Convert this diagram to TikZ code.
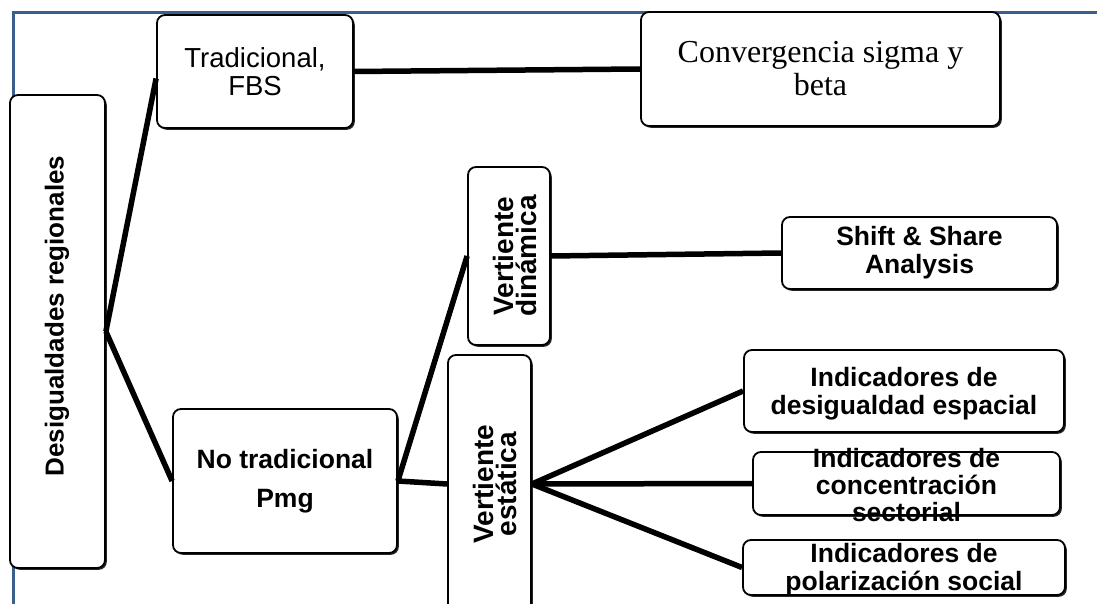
\documentclass[tikz,border=0pt]{standalone}
\usepackage{fontspec}
\setmainfont{Liberation Sans}
\newfontfamily\seriffam{Liberation Serif}
\usetikzlibrary{shadows}
\definecolor{framebl}{RGB}{58,95,142}
\begin{document}
\begin{tikzpicture}[x=1pt,y=-1pt,
  box/.style={draw=black, line width=1.8pt, rounded corners=8pt, fill=white,
    align=center, inner sep=0pt,
    drop shadow={shadow xshift=1.8pt, shadow yshift=-1.8pt, fill=black, opacity=0.85}},
  link/.style={line width=5.5pt, line join=miter},
  bf/.style={font=\bfseries\fontsize{26.5}{28}\selectfont},
  txt/.style={align=center, inner sep=0pt},
  rotbf/.style={font=\bfseries\fontsize{28}{23}\selectfont, rotate=90, align=center, inner sep=0pt},
  plain/.style={font=\fontsize{27.5}{28}\selectfont},
  serifbig/.style={font=\seriffam\fontsize{32}{33}\selectfont}]
\useasboundingbox (0,0) rectangle (1097,604);
\draw[framebl, line width=3pt] (1097,13) -- (13,13) -- (13,604);

\node[box, minimum width=95pt, minimum height=473pt] (desig) at (57.5,331.5) {};
\node[rotbf, font=\bfseries\fontsize{26}{28}\selectfont] (desigt) at (57,316) {Desigualdades regionales};
\node[box, plain, minimum width=196pt, minimum height=113pt] (trad) at (255,71.5)
  {Tradicional,\\FBS};
\node[box, serifbig, minimum width=359pt, minimum height=114pt] (conv) at (820.5,69)
  {Convergencia sigma y\\beta};
\node[box, font=\bfseries\fontsize{26.5}{39}\selectfont, minimum width=224pt, minimum height=144pt] (notrad) at (285,481)
  {No tradicional\\Pmg};
\node[box, minimum width=82pt, minimum height=178pt] (vdin) at (509,256) {};
\node[rotbf] (vdint) at (515,256) {Vertiente\\dinámica};
\node[box, minimum width=83pt, minimum height=258pt] (vest) at (489.5,484) {};
\node[rotbf] (vestt) at (495,484) {Vertiente\\estática};
\node[box, bf, minimum width=275pt, minimum height=72pt] (shift) at (919.5,253)
  {Shift \& Share\\Analysis};
\node[box, minimum width=320pt, minimum height=82pt] (ind1) at (904,391) {};
\node[txt, bf] (ind1t) at (904,393.5) {Indicadores de\\desigualdad espacial};
\node[box, minimum width=307pt, minimum height=63pt] (ind2) at (906.5,483.5) {};
\node[txt, bf, font=\bfseries\fontsize{26.5}{27}\selectfont] (ind2t) at (906.5,485)
  {Indicadores de\\concentración\\sectorial};
\node[box, minimum width=322pt, minimum height=55pt] (ind3) at (904,567.5) {};
\node[txt, bf] (ind3t) at (904,569.5) {Indicadores de\\polarización social};

\draw[link] (desig.east) -- ([yshift=-7pt]trad.west);
\draw[link] (desig.east) -- (notrad.west);
\draw[link] (trad.east) -- (conv.west);
\draw[link] (notrad.east) -- (vdin.west);
\draw[link] (notrad.east) -- (vest.west);
\draw[link] (vdin.east) -- (shift.west);
\draw[link] (vest.east) -- (ind1.west);
\draw[link] (vest.east) -- (ind2.west);
\draw[link] (vest.east) -- (ind3.west);
\end{tikzpicture}
\end{document}
